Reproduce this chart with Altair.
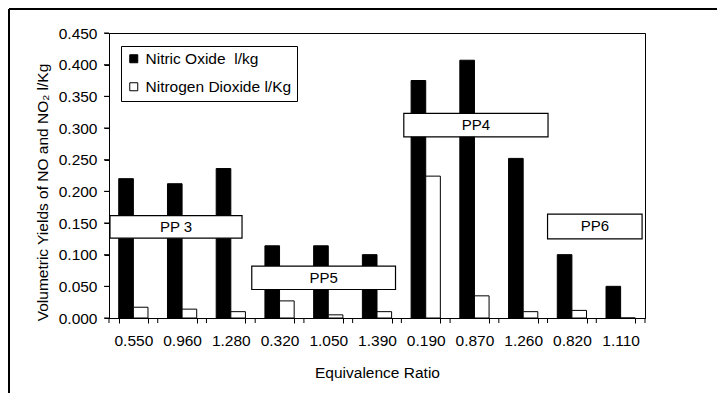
import altair as alt
import pandas as pd

# ---- data ----
ratios = ["0.550", "0.960", "1.280", "0.320", "1.050", "1.390",
          "0.190", "0.870", "1.260", "0.820", "1.110"]
no_vals = [0.220, 0.212, 0.236, 0.114, 0.114, 0.100, 0.375, 0.407, 0.252, 0.100, 0.050]
no2_vals = [0.017, 0.014, 0.010, 0.027, 0.005, 0.010, 0.224, 0.035, 0.010, 0.012, 0.000]
series = ["Nitric Oxide\u00a0 l/kg", "Nitrogen Dioxide l/Kg"]
y_ticks = [0.0, 0.05, 0.10, 0.15, 0.20, 0.25, 0.30, 0.35, 0.40, 0.45]

# annotation boxes (x in category units 0..11, y in data units)
pp_labels = ["PP 3", "PP5", "PP4", "PP6"]
pp_x0 = [0.02, 2.93, 6.05, 9.00]
pp_x1 = [2.73, 5.88, 9.01, 10.94]
pp_y0 = [0.126, 0.045, 0.286, 0.125]
pp_y1 = [0.1615, 0.082, 0.323, 0.164]

FONT = "Liberation Sans"
FS = 15.5
Y_TITLE = "Volumetric Yields of NO and NO\u2082 l/Kg"
W, H = 536, 285
YMAX = 0.45
NCAT = len(ratios)

rows = []
for r, a, b in zip(ratios, no_vals, no2_vals):
    rows.append({"ratio": r, "series": series[0], "value": a})
    rows.append({"ratio": r, "series": series[1], "value": b})
bars_df = pd.DataFrame(rows)

pp_df = pd.DataFrame({"label": pp_labels, "x0": pp_x0, "x1": pp_x1,
                      "value": pp_y0, "value2": pp_y1})

# tick marks drawn as thin rects (5 px long, 1 px wide), through the scales
px_x = NCAT / W
px_y = YMAX / H
edges = list(range(NCAT + 1))
xtick_df = pd.DataFrame({"x0": [e - 0.5 * px_x for e in edges],
                         "x1": [e + 0.5 * px_x for e in edges],
                         "value": [0.0] * len(edges),
                         "value2": [-5 * px_y] * len(edges)})
ytick_df = pd.DataFrame({"x0": [-5 * px_x] * len(y_ticks),
                         "x1": [0.0] * len(y_ticks),
                         "value": [v - 0.5 * px_y for v in y_ticks],
                         "value2": [v + 0.5 * px_y for v in y_ticks]})


def y_axis():
    return alt.Axis(title=Y_TITLE, format=".3f", values=y_ticks,
                    ticks=True, tickSize=5, tickWidth=1, tickColor="black",
                    labelPadding=7, titlePadding=8, titleY=159)


yscale = alt.Scale(domain=[0, YMAX], nice=False)
xq = alt.Scale(domain=[0, NCAT], nice=False, zero=False)

bars = alt.Chart(bars_df).mark_bar(stroke="black", strokeWidth=1).encode(
    x=alt.X("ratio:N", sort=ratios,
            scale=alt.Scale(paddingInner=0.4, paddingOuter=0.2),
            axis=alt.Axis(title="Equivalence Ratio", labelAngle=0, ticks=True,
                          tickBand="extent", tickSize=5, tickWidth=1, tickColor="black",
                          labelPadding=10, titlePadding=17)),
    xOffset=alt.XOffset("series:N", sort=series,
                        scale=alt.Scale(paddingInner=0, paddingOuter=0)),
    y=alt.Y("value:Q", scale=yscale, axis=y_axis()),
    color=alt.Color("series:N", sort=series,
                    scale=alt.Scale(domain=series, range=["black", "white"]),
                    legend=alt.Legend(title=None, orient="none", legendX=12, legendY=13,
                                      strokeColor="black", fillColor="white", padding=5,
                                      rowPadding=11, symbolType="square", symbolSize=64,
                                      symbolStrokeColor="black", symbolStrokeWidth=1,
                                      labelFontSize=FS, labelOffset=4, labelFont=FONT,
                                      labelColor="black")),
)


def tick_layer(df):
    return alt.Chart(df).mark_rect(fill="black", clip=False).encode(
        x=alt.X("x0:Q", scale=xq, axis=None),
        x2="x1:Q",
        y=alt.Y("value:Q", scale=yscale, axis=y_axis()),
        y2="value2:Q",
    )


xticks = tick_layer(xtick_df)
yticks = tick_layer(ytick_df)

boxes = alt.Chart(pp_df).mark_rect(fill="white", stroke="black", strokeWidth=1.2).encode(
    x=alt.X("x0:Q", scale=xq, axis=None),
    x2="x1:Q",
    y=alt.Y("value:Q", scale=yscale, axis=y_axis()),
    y2="value2:Q",
)

labels = alt.Chart(pp_df).transform_calculate(
    xm="(datum.x0 + datum.x1) / 2", ym="(datum.value + datum.value2) / 2"
).mark_text(font=FONT, fontSize=15, color="black", baseline="middle", align="center").encode(
    x=alt.X("xm:Q", scale=xq, axis=None),
    y=alt.Y("ym:Q", scale=yscale, axis=y_axis()),
    text="label:N",
)

one = pd.DataFrame({"a": [0]})
frame_top = alt.Chart(one).mark_rule(color="black", strokeWidth=2).encode(
    x=alt.value(-100), x2=alt.value(720), y=alt.value(-24))
frame_left = alt.Chart(one).mark_rule(color="black", strokeWidth=2).encode(
    x=alt.value(-100), y=alt.value(-24), y2=alt.value(400))

chart = alt.layer(bars, boxes, labels, xticks, yticks, frame_top, frame_left).resolve_scale(
    x="independent"
).properties(
    width=W, height=H,
    autosize="none",
    padding={"left": 101, "top": 25, "right": 72, "bottom": 75},
    background="white",
).configure_axis(
    grid=False, domainColor="black", tickColor="black", labelColor="black",
    titleColor="black", labelFont=FONT, titleFont=FONT, labelFontSize=FS,
    titleFontSize=FS, titleFontWeight="normal",
).configure_view(stroke="black", strokeWidth=1)

chart.save("out.html", embed_options={"renderer": "svg", "actions": False})
